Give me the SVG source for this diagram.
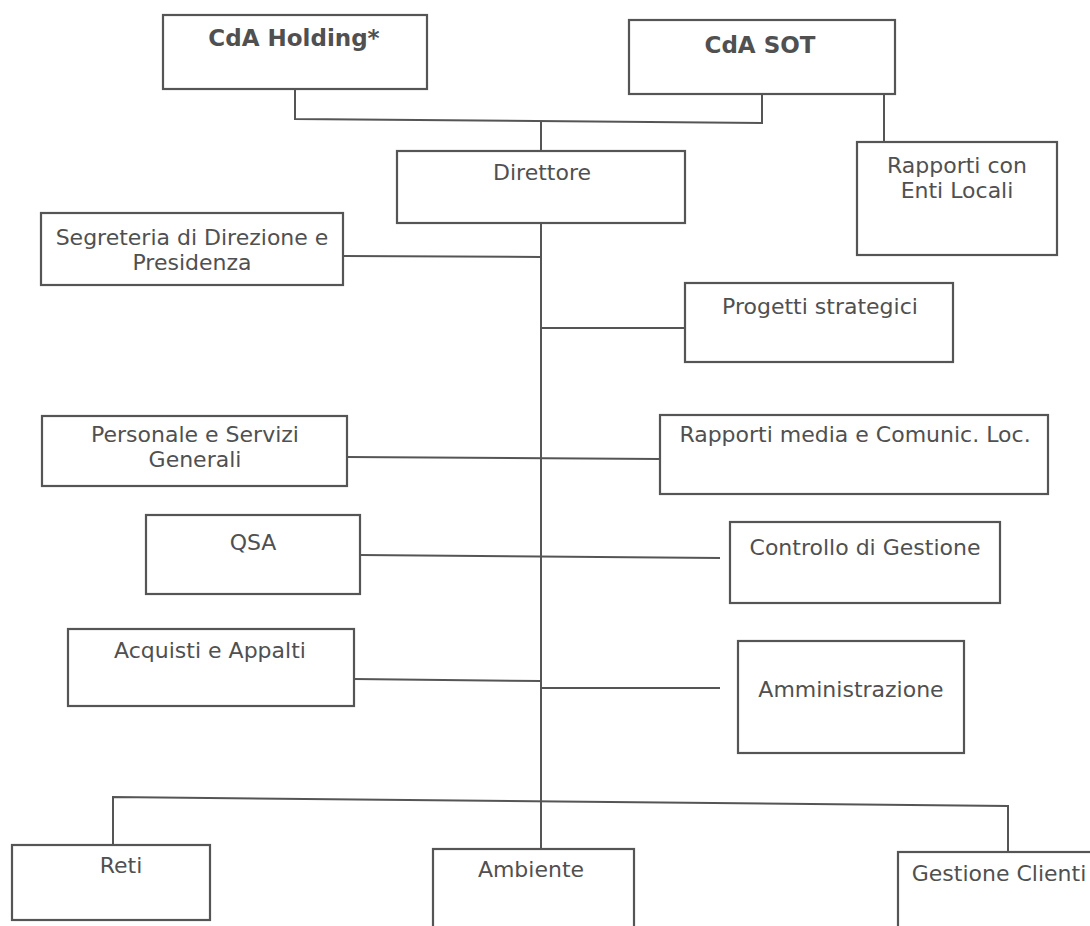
<svg xmlns="http://www.w3.org/2000/svg" width="1090" height="926" viewBox="0 0 1090 926">
  <style>
    .box { fill: #ffffff; stroke: #555555; stroke-width: 2.2; }
    .lbl { font-family: "DejaVu Sans", Verdana, sans-serif; font-size: 22px; fill: #505050; text-anchor: middle; }
    .hd { font-family: "DejaVu Sans", Verdana, sans-serif; font-size: 23px; font-weight: bold; fill: #505050; text-anchor: middle; }
    .wire { fill: none; stroke: #555555; stroke-width: 2; }
  </style>
  <rect width="1090" height="926" fill="#ffffff"/>

  <!-- connectors -->
  <g id="connectors">
    <polyline class="wire" points="295,89 295,119 762,123 762,94"/>
    <line class="wire" x1="884" y1="94" x2="884" y2="142"/>
    <line class="wire" x1="541" y1="121" x2="541" y2="151"/>
    <line class="wire" x1="541" y1="223" x2="541" y2="849"/>
    <line class="wire" x1="343" y1="256" x2="541" y2="257"/>
    <line class="wire" x1="541" y1="328" x2="685" y2="328"/>
    <line class="wire" x1="347" y1="457" x2="660" y2="459"/>
    <line class="wire" x1="360" y1="555" x2="720" y2="558"/>
    <line class="wire" x1="354" y1="679" x2="541" y2="681"/>
    <line class="wire" x1="541" y1="688" x2="720" y2="688"/>
    <polyline class="wire" points="113,845 113,797 1008,806 1008,855"/>
  </g>

  <g id="cda-holding">
    <rect class="box" x="163" y="15" width="264" height="74"/>
    <text class="hd" x="294" y="46">CdA Holding*</text>
  </g>
  <g id="cda-sot">
    <rect class="box" x="629" y="20" width="266" height="74"/>
    <text class="hd" x="760" y="53">CdA SOT</text>
  </g>
  <g id="rapporti-enti">
    <rect class="box" x="857" y="142" width="200" height="113"/>
    <text class="lbl" x="957" y="173">Rapporti con</text>
    <text class="lbl" x="957" y="198">Enti Locali</text>
  </g>
  <g id="direttore">
    <rect class="box" x="397" y="151" width="288" height="72"/>
    <text class="lbl" x="542" y="180">Direttore</text>
  </g>
  <g id="segreteria">
    <rect class="box" x="41" y="213" width="302" height="72"/>
    <text class="lbl" x="192" y="245">Segreteria di Direzione e</text>
    <text class="lbl" x="192" y="270">Presidenza</text>
  </g>
  <g id="progetti">
    <rect class="box" x="685" y="283" width="268" height="79"/>
    <text class="lbl" x="820" y="314">Progetti strategici</text>
  </g>
  <g id="personale">
    <rect class="box" x="42" y="416" width="305" height="70"/>
    <text class="lbl" x="195" y="442">Personale e Servizi</text>
    <text class="lbl" x="195" y="467">Generali</text>
  </g>
  <g id="rapporti-media">
    <rect class="box" x="660" y="415" width="388" height="79"/>
    <text class="lbl" x="855" y="442">Rapporti media e Comunic. Loc.</text>
  </g>
  <g id="qsa">
    <rect class="box" x="146" y="515" width="214" height="79"/>
    <text class="lbl" x="253" y="550">QSA</text>
  </g>
  <g id="controllo">
    <rect class="box" x="730" y="522" width="270" height="81"/>
    <text class="lbl" x="865" y="555">Controllo di Gestione</text>
  </g>
  <g id="acquisti">
    <rect class="box" x="68" y="629" width="286" height="77"/>
    <text class="lbl" x="210" y="658">Acquisti e Appalti</text>
  </g>
  <g id="amministrazione">
    <rect class="box" x="738" y="641" width="226" height="112"/>
    <text class="lbl" x="851" y="697">Amministrazione</text>
  </g>
  <g id="reti">
    <rect class="box" x="12" y="845" width="198" height="75"/>
    <text class="lbl" x="121" y="873">Reti</text>
  </g>
  <g id="ambiente">
    <rect class="box" x="433" y="849" width="201" height="80"/>
    <text class="lbl" x="531" y="877">Ambiente</text>
  </g>
  <g id="gestione-clienti">
    <rect class="box" x="898" y="852" width="200" height="80"/>
    <text class="lbl" x="999" y="881">Gestione Clienti</text>
  </g>
</svg>
